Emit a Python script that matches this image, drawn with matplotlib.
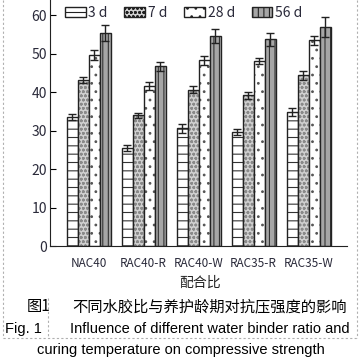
import matplotlib.pyplot as plt
import numpy as np

plt.rcParams['font.family'] = ['Noto Sans CJK SC', 'DejaVu Sans']

mixes = ['NAC40', 'RAC40-R', 'RAC40-W', 'RAC35-R', 'RAC35-W']
ages = ['3 d', '7 d', '28 d', '56 d']

# compressive strength (MPa)
d3 = [33.6, 25.6, 30.6, 29.7, 34.9]
d7 = [43.1, 34.0, 40.7, 39.2, 44.4]
d28 = [49.8, 41.6, 48.3, 48.1, 53.5]
d56 = [55.4, 46.8, 54.6, 53.8, 56.9]

e3 = [0.7, 0.8, 1.1, 0.7, 1.1]
e7 = [0.8, 0.7, 0.8, 0.9, 1.1]
e28 = [1.3, 1.0, 1.2, 0.8, 1.2]
e56 = [2.0, 1.2, 1.9, 1.7, 2.6]

values = [d3, d7, d28, d56]
errors = [e3, e7, e28, e56]
faces = ['white', '#d0d0d0', 'white', '#a6a6a6']
hatch_cols = ['#333333', '#8a8a8a', '#555555', '#333333']
hatches = ['--', 'oooo', '..', '|||']

fig = plt.figure(figsize=(3.63, 3.63), dpi=100)
ax = fig.add_axes([50 / 363, 117 / 363, 297 / 363, 246 / 363])

x = np.arange(len(mixes))
w = 0.2
plt.rcParams['hatch.linewidth'] = 0.8
handles = []
for i in range(4):
    pos = x + (i - 1.5) * w
    # hatched fill first, then a dark outline on top
    ax.bar(pos, values[i], w, color=faces[i], edgecolor=hatch_cols[i],
           linewidth=0, hatch=hatches[i])
    ax.bar(pos, values[i], w, fill=False, edgecolor='#222222', linewidth=1.0)
    ax.errorbar(pos, values[i], yerr=errors[i], fmt='none', ecolor='#222222',
                elinewidth=1.0, capsize=3, capthick=1.0)
    handles.append(plt.Rectangle((0, 0), 1, 1, facecolor=faces[i], edgecolor='#222222',
                                 linewidth=1.0, hatch=hatches[i]))

ax.set_xlim(-0.7, 4.7)
ax.set_ylim(0, 64)
ax.set_yticks(range(0, 61, 10))
ax.set_xticks(x)
ax.set_xticklabels(mixes, fontsize=8.5, color='#2a2a3a')
ax.tick_params(axis='x', length=0, pad=8)
ax.tick_params(axis='y', direction='in', length=4, labelsize=10, labelcolor='#2a2a3a', pad=2)
for s in ['top', 'right']:
    ax.spines[s].set_visible(False)
for s in ['left', 'bottom']:
    ax.spines[s].set_color('#222222')

ax.legend(handles, ages, loc='upper center', bbox_to_anchor=(0.45, 1.0), ncol=4, frameon=False,
          fontsize=10, handlelength=1.5, handletextpad=0.2, columnspacing=1.2,
          borderaxespad=0.0, labelcolor='#2a2a3a')

fig.text(200 / 363, 1 - 283 / 363, '配合比', ha='center', va='center', fontsize=10, color='#222222')
fig.text(50 / 363, 1 - 307 / 363, '图1', ha='right', va='center', fontsize=11)
fig.text(210 / 363, 1 - 307 / 363, '不同水胶比与养护龄期对抗压强度的影响', ha='center', va='center', fontsize=11)
fig.text(42 / 363, 1 - 329 / 363, 'Fig. 1', ha='right', va='center', fontsize=10.5,
         family=['Liberation Sans', 'DejaVu Sans'])
fig.text(210 / 363, 1 - 329 / 363, 'Influence of different water binder ratio and', ha='center',
         va='center', fontsize=10.5, family=['Liberation Sans', 'DejaVu Sans'])
fig.text(181 / 363, 1 - 350 / 363, 'curing temperature on compressive strength', ha='center',
         va='center', fontsize=10.5, family=['Liberation Sans', 'DejaVu Sans'])

# table borders from the source document
grey = dict(color='#b0b0b0', linestyle=(0, (2, 2)), linewidth=0.8)
fig.add_artist(plt.Line2D([3 / 363, 3 / 363], [1, 1 - 338 / 363], transform=fig.transFigure, **grey))
fig.add_artist(plt.Line2D([357 / 363, 357 / 363], [1, 1 - 338 / 363], transform=fig.transFigure, **grey))
fig.add_artist(plt.Line2D([48 / 363, 48 / 363], [1 - 298 / 363, 1 - 338 / 363], transform=fig.transFigure, **grey))
fig.add_artist(plt.Line2D([3 / 363, 357 / 363], [1 - 338 / 363, 1 - 338 / 363], transform=fig.transFigure, **grey))

fig.savefig('out.png', dpi=100)
